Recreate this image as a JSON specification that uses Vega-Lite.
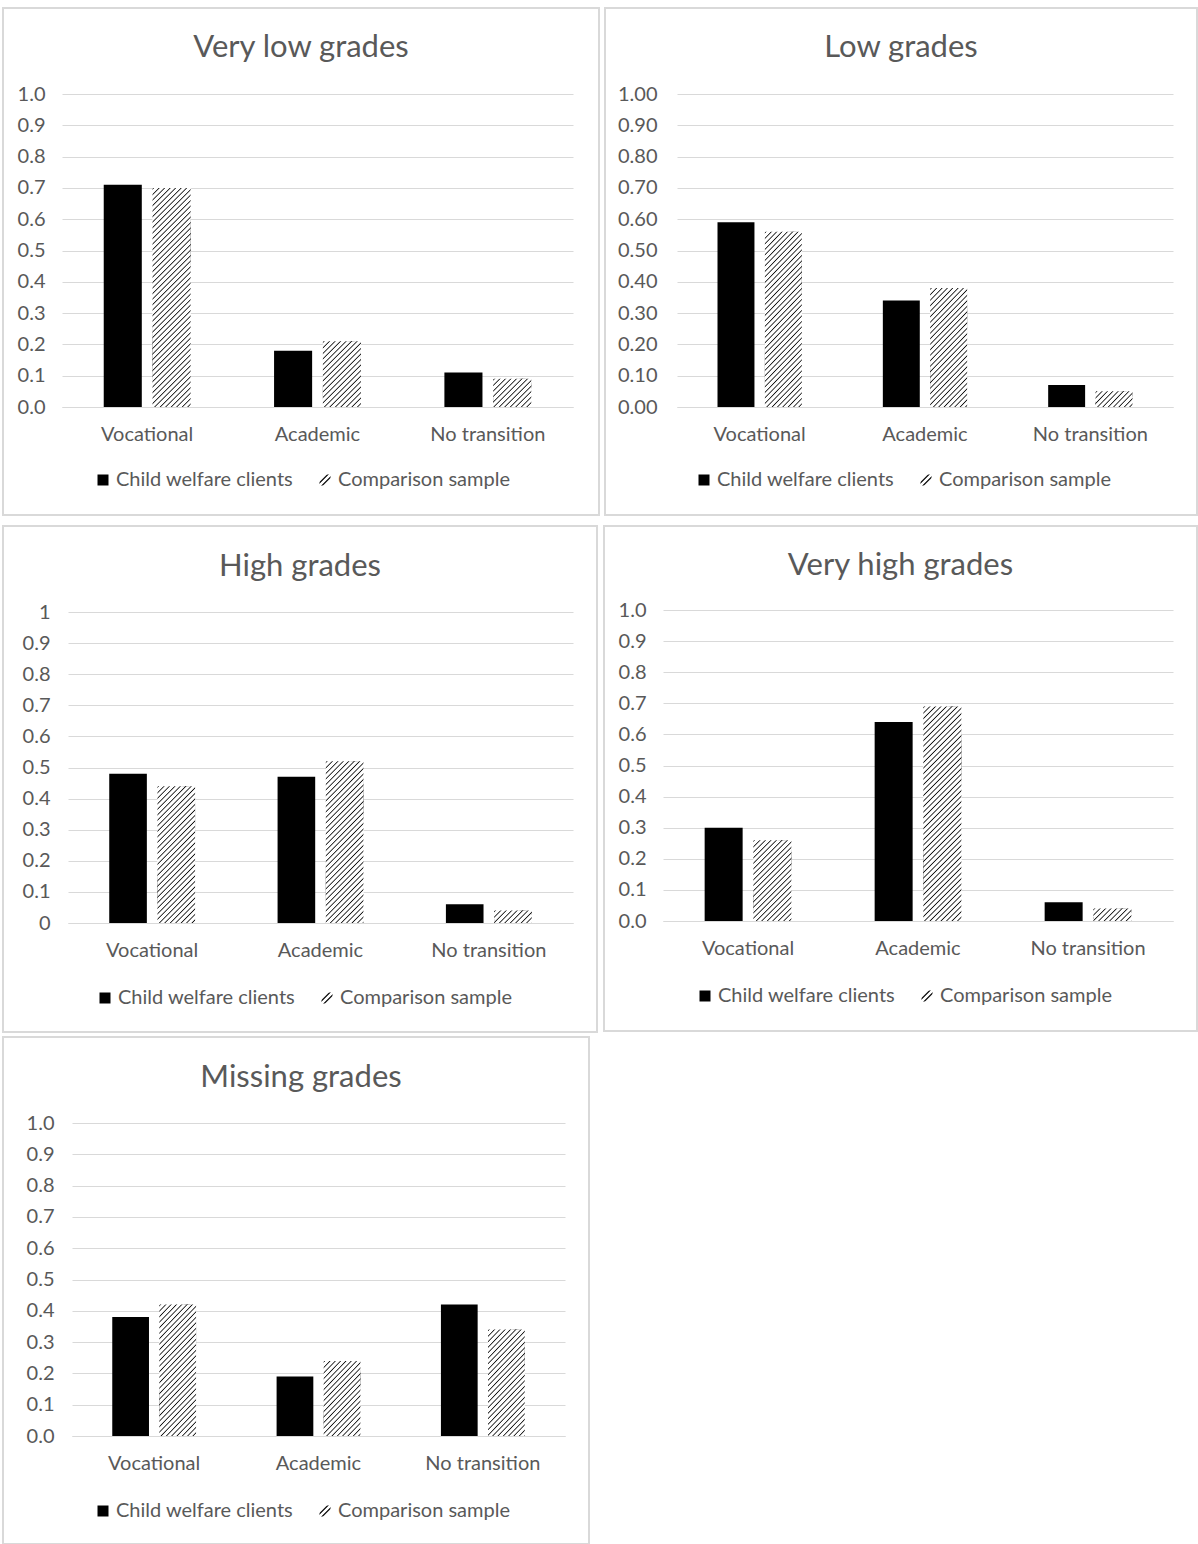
{
  "$schema": "https://vega.github.io/schema/vega-lite/v6.json",
  "padding": {"left": 2, "top": 7, "right": 0, "bottom": 0},
  "params": [
    {"name": "hatch", "value": [
      {"offset":0,"color":"#fff"},{"offset":0.0045,"color":"#111"},{"offset":0.0091,"color":"#fff"},
      {"offset":0.0208,"color":"#fff"},{"offset":0.0254,"color":"#111"},{"offset":0.0299,"color":"#fff"},
      {"offset":0.0417,"color":"#fff"},{"offset":0.0462,"color":"#111"},{"offset":0.0508,"color":"#fff"},
      {"offset":0.0625,"color":"#fff"},{"offset":0.0670,"color":"#111"},{"offset":0.0716,"color":"#fff"},
      {"offset":0.0833,"color":"#fff"},{"offset":0.0879,"color":"#111"},{"offset":0.0924,"color":"#fff"},
      {"offset":0.1042,"color":"#fff"},{"offset":0.1087,"color":"#111"},{"offset":0.1133,"color":"#fff"},
      {"offset":0.1250,"color":"#fff"},{"offset":0.1295,"color":"#111"},{"offset":0.1341,"color":"#fff"},
      {"offset":0.1458,"color":"#fff"},{"offset":0.1504,"color":"#111"},{"offset":0.1549,"color":"#fff"},
      {"offset":0.1667,"color":"#fff"},{"offset":0.1712,"color":"#111"},{"offset":0.1758,"color":"#fff"},
      {"offset":0.1875,"color":"#fff"},{"offset":0.1920,"color":"#111"},{"offset":0.1966,"color":"#fff"},
      {"offset":0.2083,"color":"#fff"},{"offset":0.2129,"color":"#111"},{"offset":0.2174,"color":"#fff"},
      {"offset":0.2292,"color":"#fff"},{"offset":0.2337,"color":"#111"},{"offset":0.2383,"color":"#fff"},
      {"offset":0.2500,"color":"#fff"},{"offset":0.2545,"color":"#111"},{"offset":0.2591,"color":"#fff"},
      {"offset":0.2708,"color":"#fff"},{"offset":0.2754,"color":"#111"},{"offset":0.2799,"color":"#fff"},
      {"offset":0.2917,"color":"#fff"},{"offset":0.2962,"color":"#111"},{"offset":0.3008,"color":"#fff"},
      {"offset":0.3125,"color":"#fff"},{"offset":0.3170,"color":"#111"},{"offset":0.3216,"color":"#fff"},
      {"offset":0.3333,"color":"#fff"},{"offset":0.3379,"color":"#111"},{"offset":0.3424,"color":"#fff"},
      {"offset":0.3542,"color":"#fff"},{"offset":0.3587,"color":"#111"},{"offset":0.3633,"color":"#fff"},
      {"offset":0.3750,"color":"#fff"},{"offset":0.3795,"color":"#111"},{"offset":0.3841,"color":"#fff"},
      {"offset":0.3958,"color":"#fff"},{"offset":0.4004,"color":"#111"},{"offset":0.4049,"color":"#fff"},
      {"offset":0.4167,"color":"#fff"},{"offset":0.4212,"color":"#111"},{"offset":0.4258,"color":"#fff"},
      {"offset":0.4375,"color":"#fff"},{"offset":0.4420,"color":"#111"},{"offset":0.4466,"color":"#fff"},
      {"offset":0.4583,"color":"#fff"},{"offset":0.4629,"color":"#111"},{"offset":0.4674,"color":"#fff"},
      {"offset":0.4792,"color":"#fff"},{"offset":0.4837,"color":"#111"},{"offset":0.4883,"color":"#fff"},
      {"offset":0.5000,"color":"#fff"},{"offset":0.5045,"color":"#111"},{"offset":0.5091,"color":"#fff"},
      {"offset":0.5208,"color":"#fff"},{"offset":0.5254,"color":"#111"},{"offset":0.5299,"color":"#fff"},
      {"offset":0.5417,"color":"#fff"},{"offset":0.5462,"color":"#111"},{"offset":0.5508,"color":"#fff"},
      {"offset":0.5625,"color":"#fff"},{"offset":0.5670,"color":"#111"},{"offset":0.5716,"color":"#fff"},
      {"offset":0.5833,"color":"#fff"},{"offset":0.5879,"color":"#111"},{"offset":0.5924,"color":"#fff"},
      {"offset":0.6042,"color":"#fff"},{"offset":0.6087,"color":"#111"},{"offset":0.6133,"color":"#fff"},
      {"offset":0.6250,"color":"#fff"},{"offset":0.6295,"color":"#111"},{"offset":0.6341,"color":"#fff"},
      {"offset":0.6458,"color":"#fff"},{"offset":0.6504,"color":"#111"},{"offset":0.6549,"color":"#fff"},
      {"offset":0.6667,"color":"#fff"},{"offset":0.6712,"color":"#111"},{"offset":0.6758,"color":"#fff"},
      {"offset":0.6875,"color":"#fff"},{"offset":0.6920,"color":"#111"},{"offset":0.6966,"color":"#fff"},
      {"offset":0.7083,"color":"#fff"},{"offset":0.7129,"color":"#111"},{"offset":0.7174,"color":"#fff"},
      {"offset":0.7292,"color":"#fff"},{"offset":0.7337,"color":"#111"},{"offset":0.7383,"color":"#fff"},
      {"offset":0.7500,"color":"#fff"},{"offset":0.7545,"color":"#111"},{"offset":0.7591,"color":"#fff"},
      {"offset":0.7708,"color":"#fff"},{"offset":0.7754,"color":"#111"},{"offset":0.7799,"color":"#fff"},
      {"offset":0.7917,"color":"#fff"},{"offset":0.7962,"color":"#111"},{"offset":0.8008,"color":"#fff"},
      {"offset":0.8125,"color":"#fff"},{"offset":0.8170,"color":"#111"},{"offset":0.8216,"color":"#fff"},
      {"offset":0.8333,"color":"#fff"},{"offset":0.8379,"color":"#111"},{"offset":0.8424,"color":"#fff"},
      {"offset":0.8542,"color":"#fff"},{"offset":0.8587,"color":"#111"},{"offset":0.8633,"color":"#fff"},
      {"offset":0.8750,"color":"#fff"},{"offset":0.8795,"color":"#111"},{"offset":0.8841,"color":"#fff"},
      {"offset":0.8958,"color":"#fff"},{"offset":0.9004,"color":"#111"},{"offset":0.9049,"color":"#fff"},
      {"offset":0.9167,"color":"#fff"},{"offset":0.9212,"color":"#111"},{"offset":0.9258,"color":"#fff"},
      {"offset":0.9375,"color":"#fff"},{"offset":0.9420,"color":"#111"},{"offset":0.9466,"color":"#fff"},
      {"offset":0.9583,"color":"#fff"},{"offset":0.9629,"color":"#111"},{"offset":0.9674,"color":"#fff"},
      {"offset":0.9792,"color":"#fff"},{"offset":0.9837,"color":"#111"},{"offset":0.9883,"color":"#fff"},
      {"offset":1,"color":"#fff"}
    ]},
    {"name": "hatchKey", "value": [
      {"offset":0,"color":"#fff"},{"offset":0.31,"color":"#fff"},{"offset":0.36,"color":"#222"},{"offset":0.40,"color":"#222"},{"offset":0.45,"color":"#fff"},
      {"offset":0.55,"color":"#fff"},{"offset":0.60,"color":"#222"},{"offset":0.64,"color":"#222"},{"offset":0.69,"color":"#fff"},
      {"offset":1,"color":"#fff"}
    ]}
  ],
  "datasets": {
    "grades": [
      {"panel": "Very low grades", "outcome": "Vocational", "sample": "Child welfare clients", "value": 0.71},
      {"panel": "Very low grades", "outcome": "Vocational", "sample": "Comparison sample", "value": 0.70},
      {"panel": "Very low grades", "outcome": "Academic", "sample": "Child welfare clients", "value": 0.18},
      {"panel": "Very low grades", "outcome": "Academic", "sample": "Comparison sample", "value": 0.21},
      {"panel": "Very low grades", "outcome": "No transition", "sample": "Child welfare clients", "value": 0.11},
      {"panel": "Very low grades", "outcome": "No transition", "sample": "Comparison sample", "value": 0.09},
      {"panel": "Low grades", "outcome": "Vocational", "sample": "Child welfare clients", "value": 0.59},
      {"panel": "Low grades", "outcome": "Vocational", "sample": "Comparison sample", "value": 0.56},
      {"panel": "Low grades", "outcome": "Academic", "sample": "Child welfare clients", "value": 0.34},
      {"panel": "Low grades", "outcome": "Academic", "sample": "Comparison sample", "value": 0.38},
      {"panel": "Low grades", "outcome": "No transition", "sample": "Child welfare clients", "value": 0.07},
      {"panel": "Low grades", "outcome": "No transition", "sample": "Comparison sample", "value": 0.05},
      {"panel": "High grades", "outcome": "Vocational", "sample": "Child welfare clients", "value": 0.48},
      {"panel": "High grades", "outcome": "Vocational", "sample": "Comparison sample", "value": 0.44},
      {"panel": "High grades", "outcome": "Academic", "sample": "Child welfare clients", "value": 0.47},
      {"panel": "High grades", "outcome": "Academic", "sample": "Comparison sample", "value": 0.52},
      {"panel": "High grades", "outcome": "No transition", "sample": "Child welfare clients", "value": 0.06},
      {"panel": "High grades", "outcome": "No transition", "sample": "Comparison sample", "value": 0.04},
      {"panel": "Very high grades", "outcome": "Vocational", "sample": "Child welfare clients", "value": 0.30},
      {"panel": "Very high grades", "outcome": "Vocational", "sample": "Comparison sample", "value": 0.26},
      {"panel": "Very high grades", "outcome": "Academic", "sample": "Child welfare clients", "value": 0.64},
      {"panel": "Very high grades", "outcome": "Academic", "sample": "Comparison sample", "value": 0.69},
      {"panel": "Very high grades", "outcome": "No transition", "sample": "Child welfare clients", "value": 0.06},
      {"panel": "Very high grades", "outcome": "No transition", "sample": "Comparison sample", "value": 0.04},
      {"panel": "Missing grades", "outcome": "Vocational", "sample": "Child welfare clients", "value": 0.38},
      {"panel": "Missing grades", "outcome": "Vocational", "sample": "Comparison sample", "value": 0.42},
      {"panel": "Missing grades", "outcome": "Academic", "sample": "Child welfare clients", "value": 0.19},
      {"panel": "Missing grades", "outcome": "Academic", "sample": "Comparison sample", "value": 0.24},
      {"panel": "Missing grades", "outcome": "No transition", "sample": "Child welfare clients", "value": 0.42},
      {"panel": "Missing grades", "outcome": "No transition", "sample": "Comparison sample", "value": 0.34}
    ]
  },
  "spacing": 9,
  "resolve": {"scale": {"color": "independent", "xOffset": "independent"}, "legend": {"color": "independent"}},
  "vconcat": [
    {
      "spacing": 6,
      "bounds": "flush",
      "resolve": {"scale": {"color": "independent", "xOffset": "independent"}, "legend": {"color": "independent"}},
      "hconcat": [
        {
          "width": 596, "height": 507,
          "data": {"name": "grades"},
          "transform": [{"filter": "datum.panel === 'Very low grades'"}],
          "title": {"text": "Very low grades", "offset": -56},
          "encoding": {
            "x": {"field": "outcome", "type": "nominal", "sort": ["Vocational", "Academic", "No transition"],
                  "scale": {"range": [59, 570], "paddingInner": 0.49, "paddingOuter": 0.245},
                  "axis": {"offset": -108}},
            "xOffset": {"field": "sample", "type": "nominal", "sort": ["Child welfare clients", "Comparison sample"],
                        "scale": {"paddingInner": 0.22, "paddingOuter": 0}},
            "y": {"field": "value", "type": "quantitative",
                  "scale": {"domain": [0, 1], "range": [399, 86], "nice": false},
                  "axis": {"offset": -50, "format": ".1f", "values": [0, 0.1, 0.2, 0.3, 0.4, 0.5, 0.6, 0.7, 0.8, 0.9, 1]}}
          },
          "layer": [
            {"mark": {"type": "bar"},
             "encoding": {"color": {"field": "sample", "type": "nominal",
               "scale": {"domain": ["Child welfare clients", "Comparison sample"],
                         "range": ["#000000", {"expr": "{gradient: 'linear', x1: 0, y1: 0, x2: 1, y2: 1, stops: hatchKey}"}]},
               "legend": {"legendX": 90, "legendY": 462}}}},
            {"transform": [{"filter": "datum.sample === 'Comparison sample'"}],
             "mark": {"type": "bar", "fill": {"expr": "{gradient: 'linear', x1: 0, y1: 0, x2: 38 * 264 / (1444 + pow(datum.value * 313, 2)), y2: datum.value * 313 * 264 / (1444 + pow(datum.value * 313, 2)), stops: hatch}"}}}
          ]
        },
        {
          "width": 592, "height": 507,
          "data": {"name": "grades"},
          "transform": [{"filter": "datum.panel === 'Low grades'"}],
          "title": {"text": "Low grades", "offset": -56},
          "encoding": {
            "x": {"field": "outcome", "type": "nominal", "sort": ["Vocational", "Academic", "No transition"],
                  "scale": {"range": [72, 568], "paddingInner": 0.49, "paddingOuter": 0.245},
                  "axis": {"offset": -108}},
            "xOffset": {"field": "sample", "type": "nominal", "sort": ["Child welfare clients", "Comparison sample"],
                        "scale": {"paddingInner": 0.22, "paddingOuter": 0}},
            "y": {"field": "value", "type": "quantitative",
                  "scale": {"domain": [0, 1], "range": [399, 86], "nice": false},
                  "axis": {"offset": -60, "format": ".2f", "values": [0, 0.1, 0.2, 0.3, 0.4, 0.5, 0.6, 0.7, 0.8, 0.9, 1]}}
          },
          "layer": [
            {"mark": {"type": "bar"},
             "encoding": {"color": {"field": "sample", "type": "nominal",
               "scale": {"domain": ["Child welfare clients", "Comparison sample"],
                         "range": ["#000000", {"expr": "{gradient: 'linear', x1: 0, y1: 0, x2: 1, y2: 1, stops: hatchKey}"}]},
               "legend": {"legendX": 89, "legendY": 462}}}},
            {"transform": [{"filter": "datum.sample === 'Comparison sample'"}],
             "mark": {"type": "bar", "fill": {"expr": "{gradient: 'linear', x1: 0, y1: 0, x2: 38 * 264 / (1444 + pow(datum.value * 313, 2)), y2: datum.value * 313 * 264 / (1444 + pow(datum.value * 313, 2)), stops: hatch}"}}}
          ]
        }
      ]
    },
    {
      "spacing": 3,
      "resolve": {"scale": {"color": "independent", "xOffset": "independent"}, "legend": {"color": "independent"}},
      "vconcat": [
        {
          "spacing": 7,
          "bounds": "flush",
          "resolve": {"scale": {"color": "independent", "xOffset": "independent"}, "legend": {"color": "independent"}},
          "hconcat": [
            {
              "width": 594, "height": 506,
              "data": {"name": "grades"},
              "transform": [{"filter": "datum.panel === 'High grades'"}],
              "title": {"text": "High grades", "offset": -57},
              "encoding": {
                "x": {"field": "outcome", "type": "nominal", "sort": ["Vocational", "Academic", "No transition"],
                      "scale": {"range": [65, 570], "paddingInner": 0.49, "paddingOuter": 0.245},
                      "axis": {"offset": -109}},
                "xOffset": {"field": "sample", "type": "nominal", "sort": ["Child welfare clients", "Comparison sample"],
                            "scale": {"paddingInner": 0.22, "paddingOuter": 0}},
                "y": {"field": "value", "type": "quantitative",
                      "scale": {"domain": [0, 1], "range": [397, 86], "nice": false},
                      "axis": {"offset": -55, "format": "~g", "values": [0, 0.1, 0.2, 0.3, 0.4, 0.5, 0.6, 0.7, 0.8, 0.9, 1]}}
              },
              "layer": [
                {"mark": {"type": "bar"},
                 "encoding": {"color": {"field": "sample", "type": "nominal",
                   "scale": {"domain": ["Child welfare clients", "Comparison sample"],
                             "range": ["#000000", {"expr": "{gradient: 'linear', x1: 0, y1: 0, x2: 1, y2: 1, stops: hatchKey}"}]},
                   "legend": {"legendX": 92, "legendY": 462}}}},
                {"transform": [{"filter": "datum.sample === 'Comparison sample'"}],
                 "mark": {"type": "bar", "fill": {"expr": "{gradient: 'linear', x1: 0, y1: 0, x2: 38 * 264 / (1444 + pow(datum.value * 311, 2)), y2: datum.value * 311 * 264 / (1444 + pow(datum.value * 311, 2)), stops: hatch}"}}}
              ]
            },
            {
              "width": 593, "height": 505,
              "data": {"name": "grades"},
              "transform": [{"filter": "datum.panel === 'Very high grades'"}],
              "title": {"text": "Very high grades", "offset": -56},
              "encoding": {
                "x": {"field": "outcome", "type": "nominal", "sort": ["Vocational", "Academic", "No transition"],
                      "scale": {"range": [59, 569], "paddingInner": 0.49, "paddingOuter": 0.245},
                      "axis": {"offset": -110}},
                "xOffset": {"field": "sample", "type": "nominal", "sort": ["Child welfare clients", "Comparison sample"],
                            "scale": {"paddingInner": 0.22, "paddingOuter": 0}},
                "y": {"field": "value", "type": "quantitative",
                      "scale": {"domain": [0, 1], "range": [395, 84], "nice": false},
                      "axis": {"offset": -50, "format": ".1f", "values": [0, 0.1, 0.2, 0.3, 0.4, 0.5, 0.6, 0.7, 0.8, 0.9, 1]}}
              },
              "layer": [
                {"mark": {"type": "bar"},
                 "encoding": {"color": {"field": "sample", "type": "nominal",
                   "scale": {"domain": ["Child welfare clients", "Comparison sample"],
                             "range": ["#000000", {"expr": "{gradient: 'linear', x1: 0, y1: 0, x2: 1, y2: 1, stops: hatchKey}"}]},
                   "legend": {"legendX": 91, "legendY": 460}}}},
                {"transform": [{"filter": "datum.sample === 'Comparison sample'"}],
                 "mark": {"type": "bar", "fill": {"expr": "{gradient: 'linear', x1: 0, y1: 0, x2: 38 * 264 / (1444 + pow(datum.value * 311, 2)), y2: datum.value * 311 * 264 / (1444 + pow(datum.value * 311, 2)), stops: hatch}"}}}
              ]
            }
          ]
        },
        {
          "width": 586, "height": 507,
          "data": {"name": "grades"},
          "transform": [{"filter": "datum.panel === 'Missing grades'"}],
          "title": {"text": "Missing grades", "offset": -57, "dx": 5},
          "encoding": {
            "x": {"field": "outcome", "type": "nominal", "sort": ["Vocational", "Academic", "No transition"],
                  "scale": {"range": [69, 562], "paddingInner": 0.49, "paddingOuter": 0.245},
                  "axis": {"offset": -108}},
            "xOffset": {"field": "sample", "type": "nominal", "sort": ["Child welfare clients", "Comparison sample"],
                        "scale": {"paddingInner": 0.22, "paddingOuter": 0}},
            "y": {"field": "value", "type": "quantitative",
                  "scale": {"domain": [0, 1], "range": [399, 86], "nice": false},
                  "axis": {"offset": -59, "format": ".1f", "values": [0, 0.1, 0.2, 0.3, 0.4, 0.5, 0.6, 0.7, 0.8, 0.9, 1]}}
          },
          "layer": [
            {"mark": {"type": "bar"},
             "encoding": {"color": {"field": "sample", "type": "nominal",
               "scale": {"domain": ["Child welfare clients", "Comparison sample"],
                         "range": ["#000000", {"expr": "{gradient: 'linear', x1: 0, y1: 0, x2: 1, y2: 1, stops: hatchKey}"}]},
               "legend": {"legendX": 90, "legendY": 464}}}},
            {"transform": [{"filter": "datum.sample === 'Comparison sample'"}],
             "mark": {"type": "bar", "fill": {"expr": "{gradient: 'linear', x1: 0, y1: 0, x2: 38 * 264 / (1444 + pow(datum.value * 313, 2)), y2: datum.value * 313 * 264 / (1444 + pow(datum.value * 313, 2)), stops: hatch}"}}}
          ]
        }
      ]
    }
  ],
  "config": {
    "font": "Lato",
    "view": {"stroke": "#d9d9d9", "strokeWidth": 2},
    "title": {"font": "Lato", "fontSize": 31, "fontWeight": "normal", "color": "#595959", "anchor": "middle"},
    "axis": {"labelFont": "Lato", "labelFontSize": 20, "labelColor": "#595959", "ticks": false, "title": null,
             "gridColor": "#d9d9d9", "gridWidth": 1, "domainColor": "#d9d9d9", "domainWidth": 1},
    "axisX": {"grid": false, "labelAngle": 0, "labelBaseline": "middle", "labelPadding": 27},
    "axisY": {"grid": true, "domain": false, "labelPadding": 8},
    "legend": {"orient": "none", "direction": "horizontal", "title": null, "labelFont": "Lato", "labelFontSize": 20,
               "labelColor": "#595959", "labelLimit": 400, "symbolType": "square", "symbolSize": 121, "symbolStrokeWidth": 0,
               "labelOffset": 3, "columnPadding": 21}
  }
}
